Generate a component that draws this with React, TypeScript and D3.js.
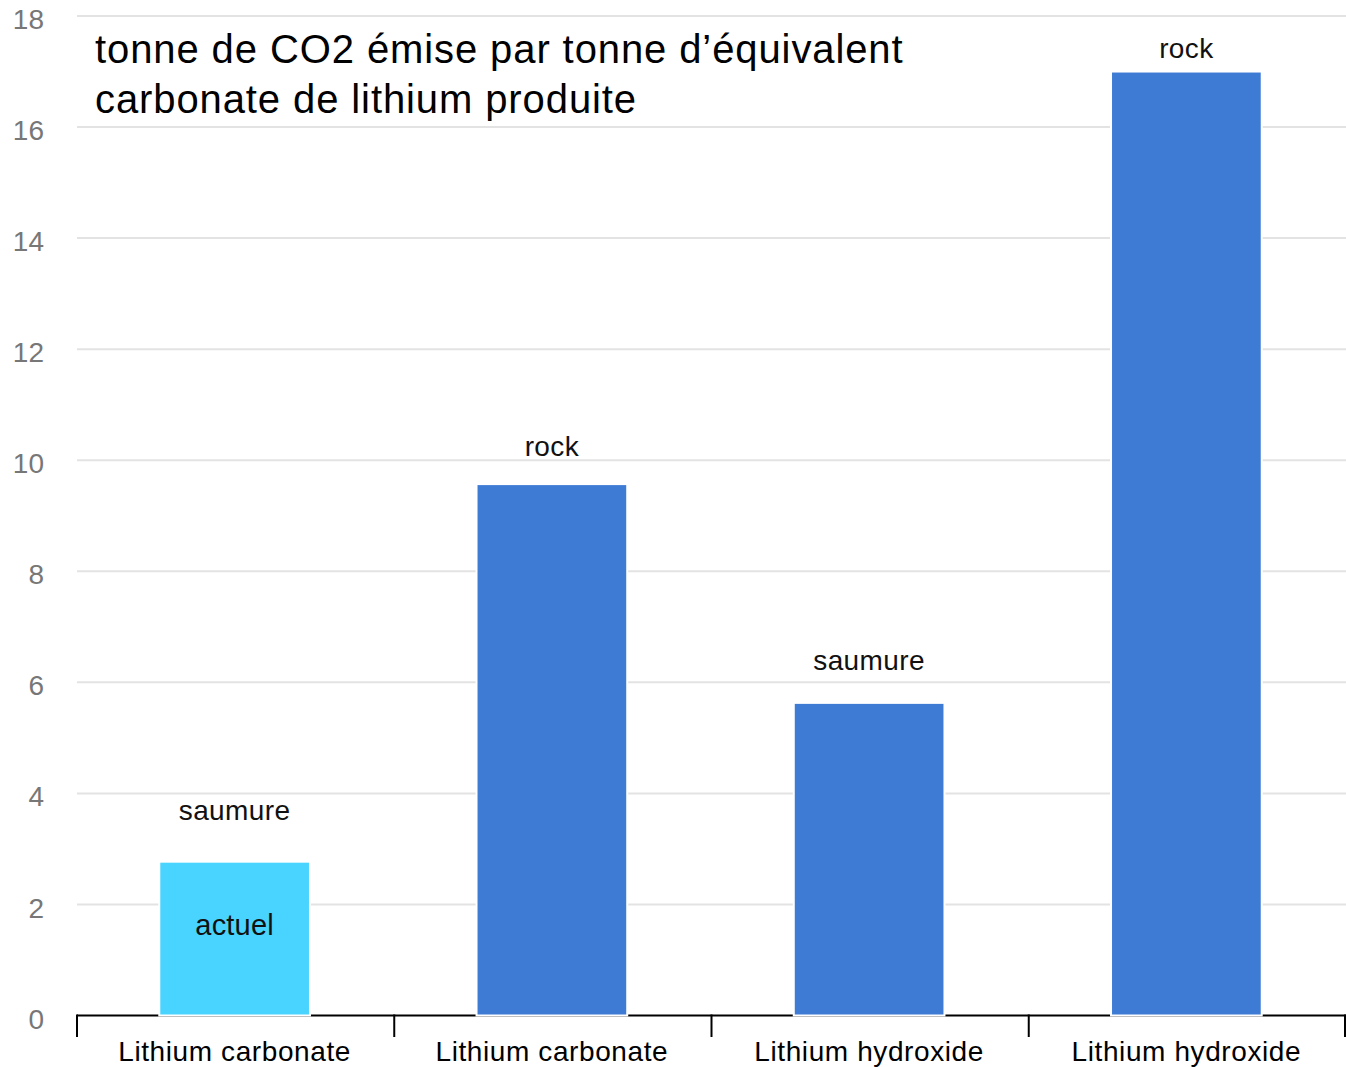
import React from "react";
import * as d3 from "d3";

const categories = ["Lithium carbonate", "Lithium carbonate", "Lithium hydroxide", "Lithium hydroxide"];
const values = [2.77, 9.57, 5.63, 17.0];
const barColors = ["#48d4ff", "#3e7bd4", "#3e7bd4", "#3e7bd4"];
const topLabels = ["saumure", "rock", "saumure", "rock"];
const topLabelAt = [3.7, 10.25, 6.4, 17.42];
const innerLabels = ["actuel", "", "", ""];
const innerLabelAt = [1.64, 0, 0, 0];
const yTicks = [0, 2, 4, 6, 8, 10, 12, 14, 16, 18];
const titleLines = ["tonne de CO2 émise par tonne d’équivalent", "carbonate de lithium produite"];

const W = 1346;
const H = 1067;
const FONT = "'Liberation Sans', Arial, Helvetica, sans-serif";

export default function App() {
  React.useEffect(() => {
    document.body.style.margin = "0";
  }, []);

  const x0 = 77;
  const x1 = 1346;
  const y = d3.scaleLinear().domain([0, 18]).range([1015.5, 16]);
  const idx = categories.map((_, i) => String(i));
  const x = d3.scaleBand<string>().domain(idx).range([x0, x1]).padding(0);
  const bw = x.bandwidth() * 0.475;

  return (
    <svg width={W} height={H} style={{ display: "block", background: "#fff" }} fontFamily={FONT}>
      {yTicks.filter((t) => t !== 0).map((t) => (
        <line key={"g" + t} x1={x0} x2={x1} y1={y(t)} y2={y(t)} stroke="#e3e3e3" strokeWidth={2} />
      ))}
      {yTicks.map((t) => (
        <text key={"yl" + t} x={44} y={y(t) + 3} dy="0.36em" textAnchor="end" fontSize={28} fill="#777">
          {t}
        </text>
      ))}
      <line x1={x0} x2={x1} y1={y(0)} y2={y(0)} stroke="#000" strokeWidth={2} />
      {[...idx, "end"].map((k, i) => {
        const xx = i < idx.length ? (x(k) as number) : x1 - 1;
        return <line key={"t" + i} x1={xx} x2={xx} y1={y(0) - 1} y2={1037} stroke="#000" strokeWidth={2} />;
      })}
      {values.map((v, i) => {
        const cx = (x(String(i)) as number) + x.bandwidth() / 2 - 1;
        return (
          <g key={"b" + i}>
            <rect
              x={cx - bw / 2}
              y={y(v)}
              width={bw}
              height={y(0) - y(v)}
              fill={barColors[i]}
              stroke="#fff"
              strokeWidth={2}
            />
            <text x={cx} y={y(topLabelAt[i])} dy="0.36em" textAnchor="middle" fontSize={28} letterSpacing={0.4} fill="#111">
              {topLabels[i]}
            </text>
            {innerLabels[i] && (
              <text x={cx} y={y(innerLabelAt[i])} dy="0.36em" textAnchor="middle" fontSize={29} letterSpacing={0.2} fill="#111">
                {innerLabels[i]}
              </text>
            )}
            <text x={cx} y={1051} dy="0.36em" textAnchor="middle" fontSize={28} letterSpacing={0.6} fill="#000">
              {categories[i]}
            </text>
          </g>
        );
      })}
      {titleLines.map((l, i) => (
        <text key={"ti" + i} x={95} y={63 + i * 50} fontSize={40} letterSpacing={0.9} fill="#000">
          {l}
        </text>
      ))}
    </svg>
  );
}
